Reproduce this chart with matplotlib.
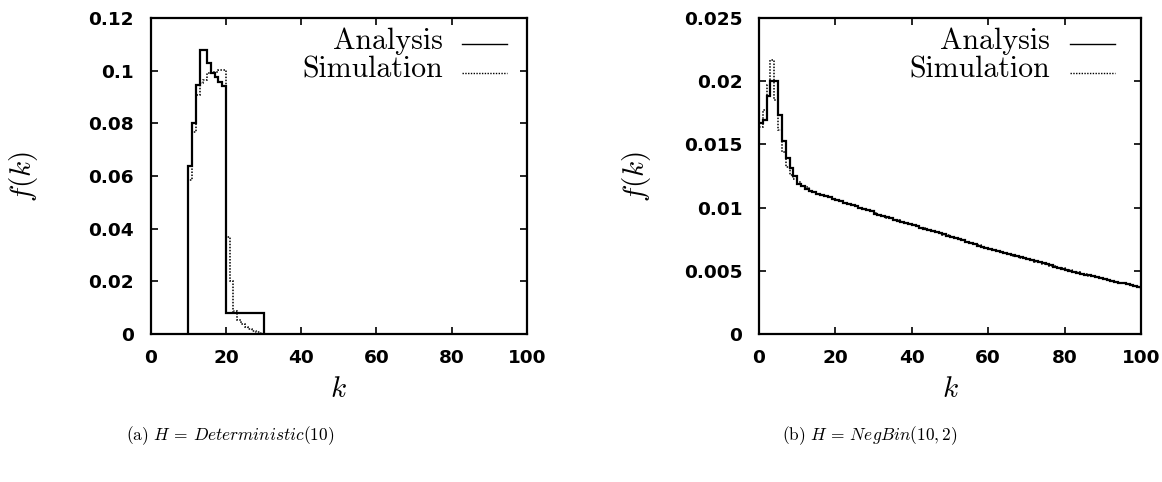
import matplotlib
matplotlib.use("Agg")
import matplotlib.pyplot as plt
from matplotlib.lines import Line2D

plt.rcParams['mathtext.fontset'] = 'cm'

# ---------------- data ----------------
# (a) H = Deterministic(10): histogram bins k = 10..29
left_edges = list(range(10, 31))
left_analysis = [0.0638, 0.0803, 0.0946, 0.1079, 0.1079, 0.1028, 0.0990, 0.0977, 0.0958, 0.0940,
                 0.0078, 0.0078, 0.0078, 0.0078, 0.0078, 0.0078, 0.0078, 0.0078, 0.0078, 0.0078]
left_simulation = [0.0585, 0.0768, 0.0908, 0.0952, 0.0965, 0.0990, 0.0996, 0.0996, 0.1003, 0.1003,
                   0.0370, 0.0200, 0.0087, 0.0055, 0.0038, 0.0027, 0.0018, 0.0011, 0.0006, 0.0003]

# (b) H = NegBin(10,2): histogram bins k = 0..100
right_edges = list(range(0, 102))
right_analysis = [
    0.0167, 0.0169, 0.0188, 0.0200, 0.0200, 0.0173, 0.0153, 0.0139, 0.0131, 0.0125,
    0.0119, 0.0117, 0.0115, 0.0113, 0.0112, 0.0111, 0.0110, 0.0109, 0.0108, 0.0107,
    0.0106, 0.0105, 0.0104, 0.0103, 0.0102, 0.0101, 0.0100, 0.0099, 0.0098, 0.0097,
    0.0095, 0.00941, 0.00932, 0.00923, 0.00914, 0.00905, 0.00896, 0.00887, 0.00878, 0.00869,
    0.0086, 0.00851, 0.00842, 0.00833, 0.00824, 0.00815, 0.00806, 0.00797, 0.00788, 0.00779,
    0.0077, 0.0076, 0.0075, 0.0074, 0.0073, 0.0072, 0.0071, 0.0070, 0.0069, 0.0068,
    0.0067, 0.00662, 0.00654, 0.00646, 0.00638, 0.0063, 0.00622, 0.00614, 0.00606, 0.00598,
    0.0059, 0.00582, 0.00574, 0.00566, 0.00558, 0.0055, 0.00542, 0.00534, 0.00526, 0.00518,
    0.0051, 0.00502, 0.00494, 0.00486, 0.00478, 0.0047, 0.00463, 0.00456, 0.00449, 0.00442,
    0.00435, 0.00428, 0.00421, 0.00414, 0.00407, 0.0040, 0.00393, 0.00386, 0.00379, 0.00372,
    0.00365]
right_simulation = [
    0.0164, 0.0177, 0.0197, 0.0217, 0.0185, 0.0161, 0.0144, 0.0132, 0.0126, 0.0123,
    0.0120, 0.0117, 0.0116, 0.0113, 0.0112, 0.0111, 0.0110, 0.0109, 0.0108, 0.0107,
    0.0106, 0.0105, 0.0104, 0.0103, 0.0102, 0.0101, 0.0100, 0.0099, 0.0098, 0.0097,
    0.0096, 0.00942, 0.00935, 0.00921, 0.00916, 0.00903, 0.00898, 0.00886, 0.00879, 0.00867,
    0.0086, 0.00853, 0.0084, 0.00835, 0.00822, 0.00817, 0.00804, 0.00798, 0.00786, 0.0078,
    0.0077, 0.00761, 0.00749, 0.00741, 0.00729, 0.00721, 0.00709, 0.00701, 0.00689, 0.00681,
    0.0067, 0.00663, 0.00653, 0.00647, 0.00637, 0.00631, 0.00621, 0.00615, 0.00605, 0.00599,
    0.0059, 0.00583, 0.00573, 0.00567, 0.00557, 0.00551, 0.00541, 0.00535, 0.00525, 0.00519,
    0.0051, 0.00503, 0.00493, 0.00487, 0.00477, 0.00471, 0.00462, 0.00457, 0.00448, 0.00443,
    0.00435, 0.00429, 0.0042, 0.00415, 0.00406, 0.00401, 0.00392, 0.00387, 0.00378, 0.00373,
    0.00365]

x_ticks = [0, 20, 40, 60, 80, 100]
left_yticks = [0, 0.02, 0.04, 0.06, 0.08, 0.1, 0.12]
left_yticklabels = ['0', '0.02', '0.04', '0.06', '0.08', '0.1', '0.12']
right_yticks = [0, 0.005, 0.01, 0.015, 0.02, 0.025]
right_yticklabels = ['0', '0.005', '0.01', '0.015', '0.02', '0.025']
series_names = ['Analysis', 'Simulation']
captions = [r'(a) $H\,=\,\mathit{Deterministic}(10)$', r'(b) $H\,=\,\mathit{NegBin}(10,2)$']

# ---------------- figure ----------------
W, H = 1162, 482
fig = plt.figure(figsize=(W / 100, H / 100), dpi=100)

def px_axes(x0, x1, y0, y1):
    return fig.add_axes([x0 / W, 1 - y1 / H, (x1 - x0) / W, (y1 - y0) / H])

axL = px_axes(150.6, 527, 18, 334)
axR = px_axes(759, 1141, 18, 334)

tick_font = dict(family='DejaVu Sans', weight='bold', size=13.3)
solid_kw = dict(color='black', lw=1.6, linestyle='-')
dot_kw = dict(color='black', lw=1.1, linestyle=(0, (1, 1)))

def style(ax, yticks, ylabels, ymax, ylabel_x):
    ax.set_xlim(0, 100)
    ax.set_ylim(0, ymax)
    ax.set_xticks(x_ticks)
    ax.set_xticklabels([str(t) for t in x_ticks], fontdict=tick_font)
    ax.set_yticks(yticks)
    ax.set_yticklabels(ylabels, fontdict=tick_font)
    ax.tick_params(direction='in', length=5, width=1.2, top=True, right=True)
    ax.tick_params(axis='x', pad=11)
    ax.tick_params(axis='y', pad=12)
    for s in ax.spines.values():
        s.set_linewidth(1.6)
    ax.set_xlabel(r'$k$', fontsize=21)
    ax.xaxis.set_label_coords(0.5, -0.13)
    ax.set_ylabel(r'$f(k)$', fontsize=21)
    ax.yaxis.set_label_coords(ylabel_x, 0.5)

axL.stairs(left_analysis, left_edges, baseline=0, **solid_kw)
axL.stairs(left_simulation, left_edges, baseline=0, **dot_kw)
style(axL, left_yticks, left_yticklabels, 0.12, -0.295)

axR.stairs(right_analysis, right_edges, baseline=None, **solid_kw)
axR.stairs(right_simulation, right_edges, baseline=None, **dot_kw)
style(axR, right_yticks, right_yticklabels, 0.025, -0.277)

def legend(ax, tx, lx0, lx1, ys):
    for name, y, kw in zip(series_names, ys, [solid_kw, dot_kw]):
        ax.text(tx, y, name, transform=ax.transAxes, ha='right', va='center',
                family='cmr10', fontsize=21.5)
        ax.add_line(Line2D([lx0, lx1], [y - 0.008, y - 0.008], transform=ax.transAxes,
                           **{**kw, 'lw': 1.0}))

legend(axL, 0.776, 0.826, 0.946, [0.925, 0.835])
legend(axR, 0.762, 0.814, 0.932, [0.925, 0.835])

fig.text(230 / W, 1 - 436 / H, captions[0], ha='center', va='center', family='cmr10', fontsize=12.5)
fig.text(870 / W, 1 - 436 / H, captions[1], ha='center', va='center', family='cmr10', fontsize=12.5)

fig.savefig('out.png', dpi=100)
